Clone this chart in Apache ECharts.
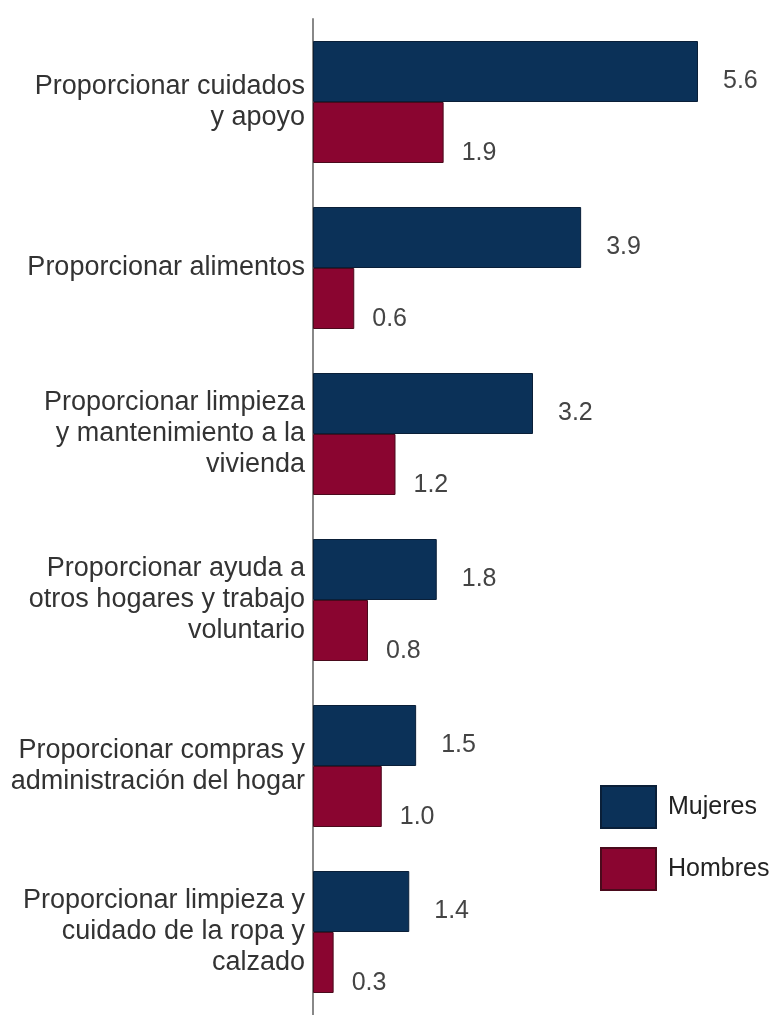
<!DOCTYPE html>
<html>
<head>
<meta charset="utf-8">
<script src="https://cdn.jsdelivr.net/npm/echarts@6/dist/echarts.min.js"></script>
<style>
  html, body { margin: 0; padding: 0; background: #fff; }
  #chart { width: 775px; height: 1015px; }
</style>
</head>
<body>
<div id="chart"></div>
<script>
var categories = [
    'Proporcionar cuidados\ny apoyo',
    'Proporcionar alimentos',
    'Proporcionar limpieza\ny mantenimiento a la\nvivienda',
    'Proporcionar ayuda a\notros hogares y trabajo\nvoluntario',
    'Proporcionar compras y\nadministración del hogar',
    'Proporcionar limpieza y\ncuidado de la ropa y\ncalzado'
];
var mujeres = [5.6, 3.9, 3.2, 1.8, 1.5, 1.4];
var hombres = [1.9, 0.6, 1.2, 0.8, 1.0, 0.3];

var chart = echarts.init(document.getElementById('chart'));

var font = 'Liberation Sans, Arial, sans-serif';

var option = {
    animation: false,
    textStyle: { fontFamily: font },
    grid: {
        left: 313,
        top: 19,
        width: 412.5,
        height: 1007
    },
    legend: {
        orient: 'vertical',
        left: 595,
        top: 780,
        icon: 'rect',
        itemWidth: 55,
        itemHeight: 42,
        itemGap: 18,
        textStyle: { fontSize: 25, color: '#222', fontFamily: font, padding: [0, 0, 0, 7] },
        data: ['Mujeres', 'Hombres']
    },
    xAxis: {
        type: 'value',
        min: 0,
        max: 6,
        show: false
    },
    yAxis: {
        type: 'category',
        inverse: true,
        data: categories,
        axisLine: { show: true, lineStyle: { color: '#888', width: 2 } },
        axisTick: { show: false },
        axisLabel: {
            margin: 8,
            fontSize: 27,
            lineHeight: 31,
            color: '#333',
            fontFamily: font
        }
    },
    series: [
        {
            name: 'Mujeres',
            type: 'bar',
            data: mujeres,
            barWidth: 61,
            barGap: '0%',
            itemStyle: { color: '#0b3158', borderColor: '#0a1f38', borderWidth: 1 },
            label: {
                show: true,
                position: 'right',
                distance: 25,
                offset: [0, 10],
                fontSize: 25,
                color: '#444',
                fontFamily: font,
                formatter: function (p) { return p.value.toFixed(1); }
            }
        },
        {
            name: 'Hombres',
            type: 'bar',
            data: hombres,
            barWidth: 61,
            barGap: '0%',
            itemStyle: { color: '#8a0530', borderColor: '#4a0a1c', borderWidth: 1 },
            label: {
                show: true,
                position: 'right',
                distance: 18,
                offset: [0, 21],
                fontSize: 25,
                color: '#444',
                fontFamily: font,
                formatter: function (p) { return p.value.toFixed(1); }
            }
        }
    ]
};

chart.setOption(option);
</script>
</body>
</html>
